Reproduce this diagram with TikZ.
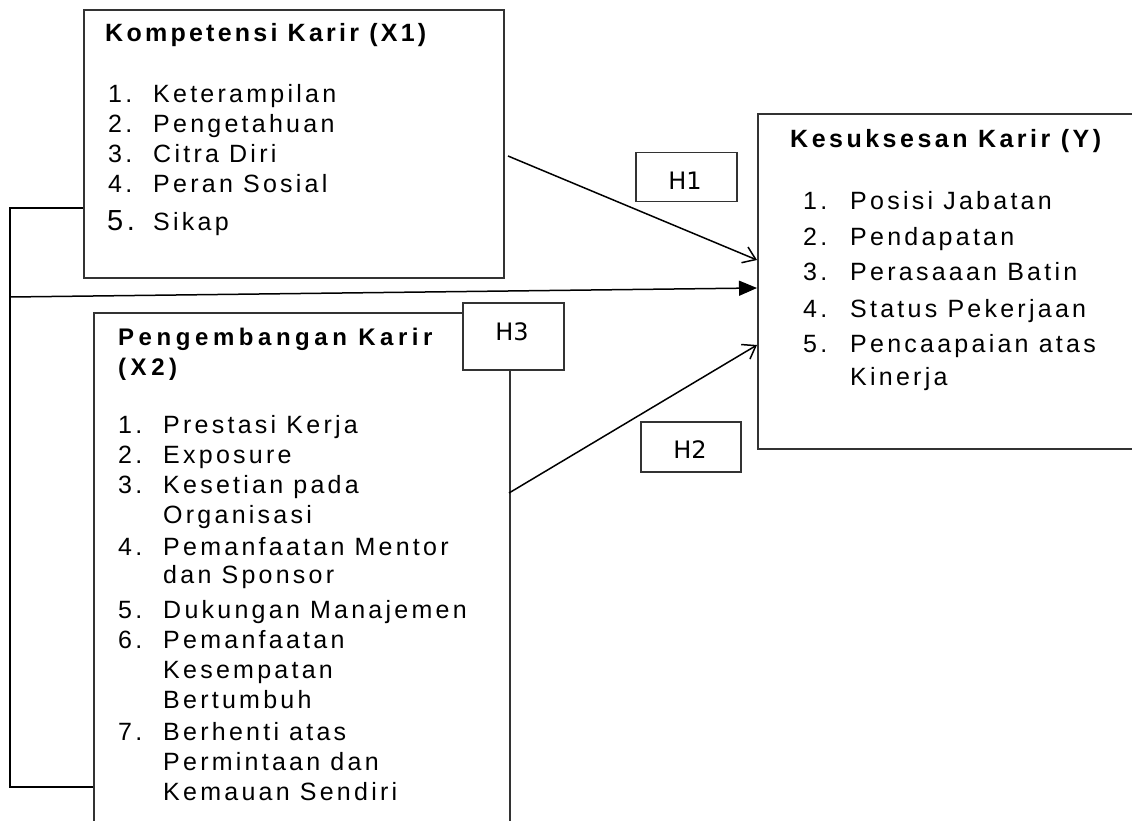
\documentclass[tikz,border=0pt]{standalone}
\usepackage{fontspec}
\setmainfont{Liberation Sans}
\newfontfamily\hfont{DejaVu Sans}
\usetikzlibrary{arrows.meta,calc}
\newcommand\fhead[1]{\fontsize{#1}{#1}\bfseries\selectfont}
\newcommand\fbody[1]{\fontsize{#1}{#1}\selectfont}
\begin{document}
\begin{tikzpicture}[x=1pt,y=-1pt,
  box/.style={draw=black!80, line width=1.6pt, inner sep=0pt, anchor=north west, fill=white},
  hbox/.style={draw=black!80, line width=1.5pt, inner sep=0pt, anchor=north west, fill=white},
  txt/.style={anchor=base west, inner sep=0pt, text=black},
  hlab/.style={anchor=base, inner sep=0pt, font=\hfont\fontsize{24}{24}\selectfont},
  conn/.style={line width=1.5pt, black},
  openarrow/.style={conn, -{Straight Barb[length=12pt,width=17pt,line width=1.5pt]}},
  fullarrow/.style={conn, -{Triangle[length=18pt,width=15pt]}}]
\useasboundingbox (0,0) rectangle (1132,821);
\clip (0,0) rectangle (1132,821);
% boxes
\node[box, minimum width=420pt, minimum height=268pt] (x1) at (83,9) {};
\node[box, minimum width=416pt, minimum height=520pt] (x2) at (93,312) {};
\node[box, minimum width=420pt, minimum height=335pt] (y) at (757,113) {};
% connectors
\coordinate (fbtop) at ($(x1.west)+(-73,64)$);
\coordinate (fbbot) at ($(x2.west)+(-83,214)$);
\coordinate (fbmid) at (10,297);
\coordinate (h1s) at (508,156);
\coordinate (h1e) at (757,260);
\coordinate (h2s) at (509,493);
\coordinate (h2e) at (757,345);
\coordinate (h3e) at (757,288);
\draw[conn] (x1.west |- fbtop) -- (fbtop) -- (fbbot) -- (x2.west |- fbbot);
\draw[fullarrow] (fbmid) -- (h3e);
\draw[openarrow] (h1s) -- (h1e);
\draw[openarrow] (h2s) -- (h2e);
% hypothesis boxes
\node[hbox, minimum width=101pt, minimum height=49pt] (h1) at (635,152) {};
\node[hbox, minimum width=100pt, minimum height=50pt] (h2) at (640,421) {};
\node[hbox, minimum width=101pt, minimum height=67pt] (h3) at (462,302) {};
\node[hlab] (h1t) at (685,190) {H1};
\node[hlab] (h2t) at (690,458) {H2};
\node[hlab] (h3t) at (512,340) {H3};
% X1 text
\node[txt] (x1h) at (105,42) {\fhead{25}\addfontfeature{LetterSpace=13}Kompetensi Karir (X1)};
\foreach \n/\yy/\t [count=\i] in {1./103/Keterampilan, 2./133/Pengetahuan,
  3./163/Citra Diri, 4./193/Peran Sosial}{
  \node[txt] (x1n\i) at (108,\yy) {\fbody{25}\addfontfeature{LetterSpace=13}\n};
  \node[txt] (x1t\i) at (153,\yy) {\fbody{25}\addfontfeature{LetterSpace=13}\t};
}
\node[txt] (x1n5) at (107,230) {\fbody{29}\addfontfeature{LetterSpace=12}5.};
\node[txt] (x1t5) at (153,230) {\fbody{25}\addfontfeature{LetterSpace=13}Sikap};
% X2 text
\node[txt] (x2h1) at (118,345) {\fhead{24}\addfontfeature{LetterSpace=19}Pengembangan Karir};
\node[txt] (x2h2) at (118,375) {\fhead{24}\addfontfeature{LetterSpace=19}(X2)};
\foreach \n/\yy/\t [count=\i] in {
  1./433/Prestasi Kerja, 2./463/Exposure, 3./493/Kesetian pada, /523/Organisasi,
  4./555/Pemanfaatan Mentor, /583/dan Sponsor, 5./618/Dukungan Manajemen,
  6./648/Pemanfaatan, /678/Kesempatan, /708/Bertumbuh, 7./740/Berhenti atas,
  /770/Permintaan dan, /800/Kemauan Sendiri}{
  \node[txt] (x2n\i) at (118,\yy) {\fbody{25}\addfontfeature{LetterSpace=13}\n};
  \node[txt] (x2t\i) at (163,\yy) {\fbody{25}\addfontfeature{LetterSpace=13}\t};
}
% Y text
\node[txt] (yh) at (790,148) {\fhead{25}\addfontfeature{LetterSpace=14}Kesuksesan Karir (Y)};
\foreach \n/\yy/\t [count=\i] in {
  1./210/Posisi Jabatan, 2./245/Pendapatan, 3./280/Perasaaan Batin,
  4./317/Status Pekerjaan, 5./352/Pencaapaian atas, /385/Kinerja}{
  \node[txt] (yn\i) at (803,\yy) {\fbody{25}\addfontfeature{LetterSpace=13}\n};
  \node[txt] (yt\i) at (850,\yy) {\fbody{25}\addfontfeature{LetterSpace=13}\t};
}
\end{tikzpicture}
\end{document}
